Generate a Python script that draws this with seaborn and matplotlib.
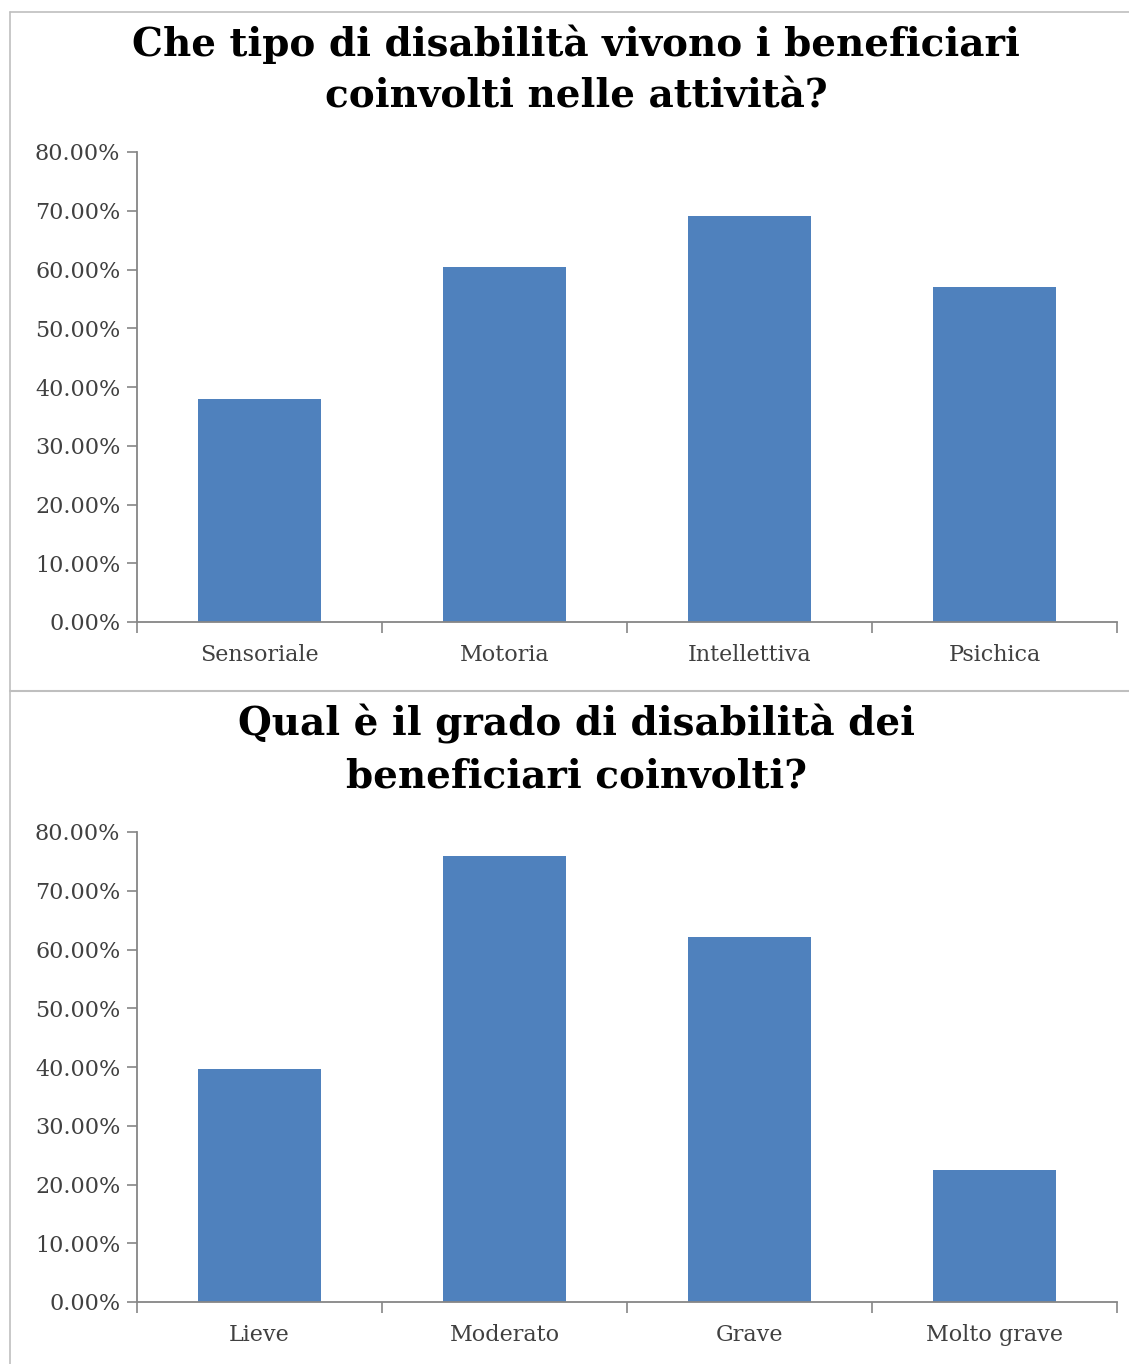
import matplotlib
matplotlib.use("Agg")
import matplotlib.pyplot as plt
import seaborn as sns
import pandas as pd
from matplotlib.ticker import FuncFormatter, FixedLocator, NullFormatter
from matplotlib.lines import Line2D

# ---- data ----
title_top = "Che tipo di disabilità vivono i beneficiari\ncoinvolti nelle attività?"
cats_top = ["Sensoriale", "Motoria", "Intellettiva", "Psichica"]
vals_top = [0.379, 0.604, 0.691, 0.570]

title_bot = "Qual è il grado di disabilità dei\nbeneficiari coinvolti?"
cats_bot = ["Lieve", "Moderato", "Grave", "Molto grave"]
vals_bot = [0.397, 0.759, 0.621, 0.225]

yticks = [0.0, 0.1, 0.2, 0.3, 0.4, 0.5, 0.6, 0.7, 0.8]

sns.set_theme(style="white")
plt.rcParams['font.family'] = ['DejaVu Serif']

W, H = 1129, 1364
fig = plt.figure(figsize=(W / 100, H / 100), dpi=100)

bar_color = "#4F81BD"
axis_color = "#868686"
text_color = "#404040"
border_color = "#BFBFBF"

# panel borders
fig.add_artist(Line2D([10 / W, 10 / W], [0, 1 - 12 / H], transform=fig.transFigure, color=border_color, lw=1.2))
fig.add_artist(Line2D([10 / W, 1], [1 - 12 / H, 1 - 12 / H], transform=fig.transFigure, color=border_color, lw=1.2))
fig.add_artist(Line2D([10 / W, 1], [1 - 691 / H, 1 - 691 / H], transform=fig.transFigure, color=border_color, lw=1.5))


def panel(cats, vals, title, y0px, y80px, title_ypx):
    left = 137 / W
    right = 1117 / W
    bottom = 1 - y0px / H
    top = 1 - y80px / H
    ax = fig.add_axes([left, bottom, right - left, top - bottom])
    df = pd.DataFrame({"cat": cats, "val": vals})
    sns.barplot(data=df, x="cat", y="val", order=cats, color=bar_color,
                saturation=1, width=0.5, ax=ax, edgecolor="none")
    ax.set_xlim(-0.5, len(cats) - 0.5)
    ax.set_ylim(0, 0.8)
    ax.set_xlabel("")
    ax.set_ylabel("")
    for s in ["top", "right"]:
        ax.spines[s].set_visible(False)
    for s in ["left", "bottom"]:
        ax.spines[s].set_color(axis_color)
        ax.spines[s].set_linewidth(1.3)
    ax.set_yticks(yticks)
    ax.yaxis.set_major_formatter(FuncFormatter(lambda v, p: f"{v * 100:.2f}%"))
    ax.tick_params(axis="y", direction="out", length=7, width=1.2, color=axis_color,
                   labelsize=16, labelcolor=text_color, pad=5, left=True)
    # x: boundary ticks as major, labels as minor
    ax.xaxis.set_major_locator(FixedLocator([i - 0.5 for i in range(len(cats) + 1)]))
    ax.xaxis.set_major_formatter(NullFormatter())
    ax.xaxis.set_minor_locator(FixedLocator(list(range(len(cats)))))
    ax.set_xticklabels(cats, minor=True)
    ax.tick_params(axis="x", which="major", direction="out", length=8, width=1.2,
                   color=axis_color, bottom=True)
    ax.tick_params(axis="x", which="minor", length=0, labelsize=16,
                   labelcolor=text_color, pad=16, bottom=True)
    ax.grid(False)
    fig.text(576 / W, 1 - title_ypx / H, title, ha="center", va="center",
             fontsize=28, fontweight="bold", color="black", linespacing=1.45)
    return ax


panel(cats_top, vals_top, title_top, 622, 152, 70)
panel(cats_bot, vals_bot, title_bot, 1302, 832, 750)

fig.savefig("out.png", dpi=100, facecolor="white")
